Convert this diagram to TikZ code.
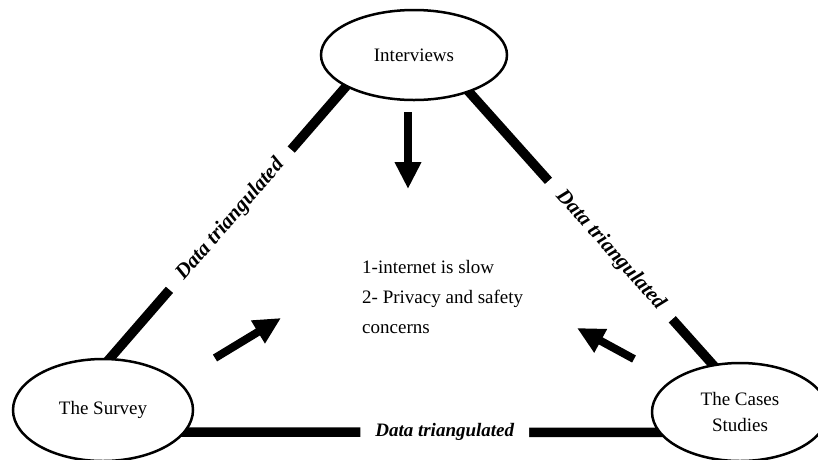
\documentclass[tikz,border=0pt]{standalone}
\usepackage{fontspec}
\setmainfont{Liberation Serif}
\usetikzlibrary{shapes.geometric,arrows.meta,backgrounds}
\begin{document}
\begin{tikzpicture}[x=1pt,y=-1pt,
  source/.style={ellipse, draw, line width=2.5pt, fill=white, inner sep=0pt,
    align=center, font=\fontsize{19}{26}\selectfont},
  link/.style={line width=9.5pt, shorten <=-8pt, shorten >=-8pt},
  linklabel/.style={fill=white, inner xsep=16pt, inner ysep=2pt, sloped,
    font=\fontsize{21}{21}\selectfont\bfseries\itshape},
  pointer/.style={line width=8pt, -{Triangle[length=27pt,width=25pt]}}]
\useasboundingbox (0,0) rectangle (818,459);

% the three data sources
\node[source, minimum width=186pt, minimum height=90pt] (int) at (414,55) {Interviews};
\node[source, minimum width=180pt, minimum height=102pt] (sur) at (103,410) {The Survey};
\node[source, minimum width=176pt, minimum height=98pt] (cas) at (740,412) {The Cases\\Studies};

% triangulation links, kept behind the ellipses
\begin{scope}[on background layer]
  \draw[link] (int.205) -- node[linklabel, pos=0.49] {Data triangulated} (sur.82);
  \draw[link] (int.326) -- node[linklabel, pos=0.58] {Data triangulated} (cas.120);
  \draw[link] (sur.-15) -- node[linklabel, pos=0.548, font=\fontsize{19}{19}\selectfont\bfseries\itshape, inner xsep=15pt] {Data triangulated} (cas.194);
\end{scope}

% findings in the middle
\node[anchor=west, align=left, inner sep=0pt, font=\fontsize{19}{30}\selectfont]
  (issues) at (362,297) {1-internet is slow\\2- Privacy and safety\\concerns};

% arrows pointing at the findings
\coordinate (p1s) at (408,112); \coordinate (p1e) at (408,189);
\coordinate (p2s) at (215,358); \coordinate (p2e) at (281,318);
\coordinate (p3s) at (634,359); \coordinate (p3e) at (577,328);
\draw[pointer] (p1s) -- (p1e);
\draw[pointer] (p2s) -- (p2e);
\draw[pointer] (p3s) -- (p3e);
\end{tikzpicture}
\end{document}
